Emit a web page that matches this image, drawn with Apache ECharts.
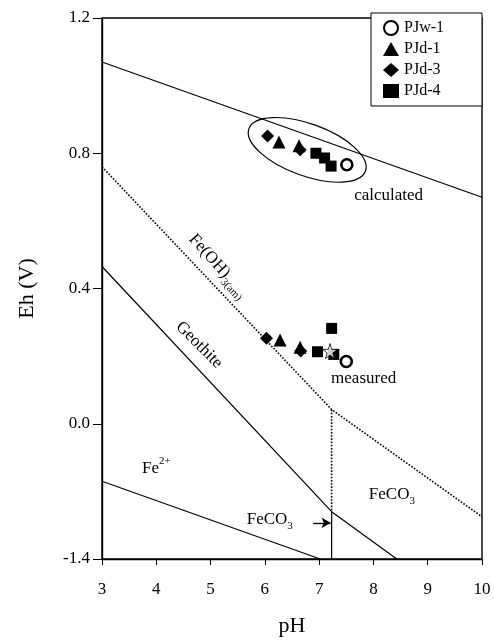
<!DOCTYPE html>
<html>
<head>
<meta charset="utf-8">
<script src="https://cdn.jsdelivr.net/npm/echarts@6/dist/echarts.min.js"></script>
<style>
html, body { margin: 0; padding: 0; background: #fff; }
#main { width: 494px; height: 640px; }
</style>
</head>
<body>
<div id="main"></div>
<script>
// sample points, [pH, Eh]; first ones are "calculated", then "measured"
var pjw1 = [[7.51, 0.766], [7.50, 0.184]];
var pjd1 = [[6.26, 0.833], [6.63, 0.822], [6.28, 0.248], [6.65, 0.226]];
var pjd3 = [[6.05, 0.851], [6.65, 0.810], [6.03, 0.253], [6.66, 0.215]];
var pjd4 = [[6.94, 0.800], [7.10, 0.786], [7.22, 0.762], [6.97, 0.213], [7.27, 0.205], [7.23, 0.282]];
var starPt = [[7.20, 0.215]];

// stability boundaries
var o2Line = [[3, 1.07], [10, 0.67]];
var h2Line = [[3, -0.17], [7.02, -0.4]];
var goethiteLine = [[3, 0.465], [7.23, -0.26], [8.43, -0.4]];
var amorphLine = [[3, 0.76], [7.23, 0.042], [10, -0.275]];
var vertDotted = [[7.23, 0.042], [7.23, -0.26]];
var vertSolid = [[7.23, -0.26], [7.23, -0.4]];

var yTickLabels = ['-1.4', '0.0', '0.4', '0.8', '1.2'];
var legendNames = ['PJw-1', 'PJd-1', 'PJd-3', 'PJd-4'];

var serif = '"Liberation Serif", "DejaVu Serif", serif';

var myChart = echarts.init(document.getElementById('main'));

function bline(name, data, dotted) {
  return {
    name: name,
    type: 'line',
    data: data,
    showSymbol: false,
    silent: true,
    animation: false,
    lineStyle: { color: '#000', width: dotted ? 1.6 : 1.2, type: dotted ? 'dotted' : 'solid' },
    z: 1
  };
}

function pts(name, data, symbol, size, hollow) {
  return {
    name: name,
    type: 'scatter',
    data: data,
    symbol: symbol,
    symbolSize: size,
    animation: false,
    itemStyle: hollow ? { color: '#fff', borderColor: '#000', borderWidth: 2.6, opacity: 1 } : { color: '#000', opacity: 1 },
    z: 3
  };
}

var option = {
  animation: false,
  backgroundColor: '#fff',
  grid: {
    left: 102, right: 12, top: 18, bottom: 81,
    outerBoundsMode: 'none',
    containLabel: false,
    show: true, borderColor: '#000', borderWidth: 1.4
  },
  legend: {
    data: legendNames,
    orient: 'vertical',
    left: 371,
    top: 13,
    backgroundColor: '#fff',
    borderColor: '#000',
    borderWidth: 1,
    padding: [7, 38, 7, 12],
    itemGap: 5,
    itemWidth: 16,
    itemHeight: 14,
    textStyle: { fontFamily: serif, fontSize: 16, color: '#000' }
  },
  xAxis: {
    type: 'value',
    min: 3, max: 10, interval: 1,
    name: 'pH',
    nameLocation: 'middle',
    nameGap: 56,
    nameTextStyle: { fontFamily: serif, fontSize: 22, color: '#000' },
    axisLine: { onZero: false, lineStyle: { color: '#000', width: 1.4 } },
    axisTick: { inside: false, length: 6, lineStyle: { color: '#000' } },
    axisLabel: { fontFamily: serif, fontSize: 17, color: '#000', margin: 22 },
    splitLine: { show: false }
  },
  yAxis: {
    type: 'value',
    min: -0.4, max: 1.2, interval: 0.4,
    name: 'Eh (V)',
    nameLocation: 'middle',
    nameGap: 64,
    nameTextStyle: { fontFamily: serif, fontSize: 22, color: '#000' },
    axisLine: { onZero: false, lineStyle: { color: '#000', width: 1.4 } },
    axisTick: { length: 9, lineStyle: { color: '#000' } },
    axisLabel: {
      fontFamily: serif, fontSize: 17, color: '#000', margin: 12,
      formatter: function (v, i) { return yTickLabels[i]; }
    },
    splitLine: { show: false }
  },
  series: [
    bline('o2', o2Line, false),
    bline('h2', h2Line, false),
    bline('goethite', goethiteLine, false),
    bline('amorph', amorphLine, true),
    bline('vdot', vertDotted, true),
    bline('vsolid', vertSolid, false),
    {
      name: 'arrow',
      type: 'line',
      data: [],
      silent: true,
      markLine: {
        silent: true,
        symbol: ['none', 'arrow'],
        symbolSize: [8, 9],
        label: { show: false },
        lineStyle: { color: '#000', width: 1.3, type: 'solid' },
        data: [[{ coord: [6.89, -0.293] }, { coord: [7.21, -0.293] }]]
      }
    },
    pts('PJw-1', pjw1, 'circle', 11, true),
    pts('PJd-1', pjd1, 'triangle', 13, false),
    pts('PJd-3', pjd3, 'diamond', 13, false),
    pts('PJd-4', pjd4, 'rect', 11, false),
    {
      name: 'star',
      type: 'scatter',
      data: starPt,
      symbol: 'path://M50,0 L61,35 L98,35 L68,57 L79,91 L50,70 L21,91 L32,57 L2,35 L39,35 Z',
      symbolSize: 15,
      itemStyle: { color: '#fff', borderColor: '#000', borderWidth: 1 },
      z: 4
    }
  ]
};

myChart.setOption(option);

// annotations placed in data coordinates
var textNotes = [
  { at: [8.28, 0.674], text: 'calculated', rot: 0 },
  { at: [7.82, 0.135], text: 'measured', rot: 0 },
  { at: [5.14, 0.467], text: '{m|Fe(OH)}{s|3(am)}', rot: -48 },
  { at: [4.79, 0.233], text: '{m|Geothite}', rot: -45 },
  { at: [4.0, -0.131], text: '{m|Fe}{p|2+}', rot: 0 },
  { at: [8.34, -0.21], text: '{m|FeCO}{s|3}', rot: 0 },
  { at: [6.09, -0.284], text: '{m|FeCO}{s|3}', rot: 0 }
];

function toPx(p) {
  return myChart.convertToPixel({ xAxisIndex: 0, yAxisIndex: 0 }, p);
}

var graphics = textNotes.map(function (n) {
  var px = toPx(n.at);
  return {
    type: 'text',
    x: px[0], y: px[1],
    rotation: n.rot * Math.PI / 180,
    z: 10,
    style: {
      text: n.text,
      fill: '#000',
      font: '17px ' + serif,
      align: 'center',
      verticalAlign: 'middle',
      rich: {
        m: { fontFamily: serif, fontSize: 17, lineHeight: 24, verticalAlign: 'middle' },
        s: { fontFamily: serif, fontSize: 11, lineHeight: 13, verticalAlign: 'bottom' },
        p: { fontFamily: serif, fontSize: 11, lineHeight: 13, verticalAlign: 'top' }
      }
    }
  };
});

// ellipse around the calculated points
var ec = toPx([6.78, 0.81]);
graphics.push({
  type: 'ellipse',
  x: ec[0], y: ec[1],
  rotation: -20 * Math.PI / 180,
  shape: { cx: 0, cy: 0, rx: 62, ry: 26 },
  style: { fill: 'none', stroke: '#000', lineWidth: 1.2 },
  z: 2
});

myChart.setOption({ graphic: graphics });

window.addEventListener('resize', function () { myChart.resize(); });
</script>
</body>
</html>
